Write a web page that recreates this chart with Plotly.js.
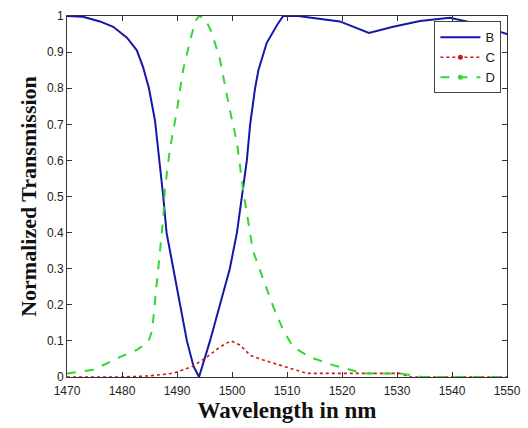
<!DOCTYPE html>
<html>
<head>
<meta charset="utf-8">
<script src="https://cdn.plot.ly/plotly-3.0.1.min.js"></script>
<style>html,body{margin:0;padding:0;background:#fff;}#chart{width:528px;height:428px;}</style>
</head>
<body>
<div id="chart"></div>
<script>
// Series B
var bX = [1470, 1472.9, 1476, 1478.4, 1480.9, 1482.7, 1483.8, 1484.9, 1486, 1486.7, 1487.5, 1488.1, 1489.3, 1490.5, 1491.8, 1493, 1494, 1496, 1497.8, 1499.6, 1500.9, 1501.8, 1502.7, 1503.3, 1504.2, 1504.8, 1506.3, 1508.2, 1509.3, 1512, 1514.8, 1519.6, 1524.9, 1529.3, 1534.2, 1539.6, 1542.7, 1546, 1550];
var bY = [1.0, 0.998, 0.985, 0.97, 0.94, 0.905, 0.86, 0.8, 0.71, 0.62, 0.5, 0.4, 0.3, 0.2, 0.1, 0.03, 0.0, 0.1, 0.2, 0.3, 0.4, 0.5, 0.6, 0.7, 0.8, 0.85, 0.925, 0.975, 1.0, 1.0, 0.995, 0.985, 0.953, 0.97, 0.986, 0.995, 0.985, 0.97, 0.95];
// Series C
var cX = [1470, 1480, 1484.8, 1489.3, 1492.9, 1495.4, 1497.8, 1499.8, 1501.5, 1503.3, 1505.7, 1510, 1513.6, 1518.4, 1530.5, 1532.4, 1540, 1550];
var cY = [0, 0, 0.003, 0.01, 0.03, 0.055, 0.083, 0.1, 0.088, 0.06, 0.047, 0.028, 0.01, 0.01, 0.01, 0, 0, 0];
// Series D
var dX = [1470, 1474.8, 1479.6, 1482.7, 1484.8, 1485.5, 1486, 1486.6, 1487.5, 1487.8, 1488.7, 1490, 1491.1, 1492.4, 1493.3, 1494, 1495.1, 1496.3, 1497.8, 1499.6, 1500.9, 1502, 1502.4, 1503.8, 1505.7, 1507.5, 1509.3, 1511.1, 1514.2, 1518.4, 1522.7, 1524.5, 1530.5, 1534.5, 1540, 1550];
var dY = [0.01, 0.02, 0.055, 0.075, 0.097, 0.13, 0.21, 0.305, 0.44, 0.52, 0.63, 0.74, 0.85, 0.933, 0.985, 1.0, 0.993, 0.955, 0.88, 0.74, 0.65, 0.52, 0.48, 0.35, 0.27, 0.195, 0.13, 0.083, 0.055, 0.033, 0.015, 0.01, 0.01, 0, 0, 0];

var xTicks = [1470, 1480, 1490, 1500, 1510, 1520, 1530, 1540, 1550];
var yTicks = [0, 0.1, 0.2, 0.3, 0.4, 0.5, 0.6, 0.7, 0.8, 0.9, 1];
var yTickText = ['0', '0.1', '0.2', '0.3', '0.4', '0.5', '0.6', '0.7', '0.8', '0.9', '1'];

var colB = '#1616a8', colC = '#cc1a1a', colD = '#33d633';

var traces = [
  {x: bX, y: bY, mode: 'lines', line: {color: colB, width: 2}, showlegend: false, hoverinfo: 'skip'},
  {x: cX, y: cY, mode: 'lines', line: {color: colC, width: 1.6, dash: 'dot'}, showlegend: false, hoverinfo: 'skip'},
  {x: dX, y: dY, mode: 'lines', line: {color: colD, width: 2, dash: 'dash'}, showlegend: false, hoverinfo: 'skip'},
  {x: [null], y: [null], name: 'B', mode: 'lines', line: {color: colB, width: 2}},
  {x: [null], y: [null], name: 'C', mode: 'lines+markers', line: {color: colC, width: 1.6, dash: 'dot'}, marker: {color: colC, size: 5}},
  {x: [null], y: [null], name: 'D', mode: 'lines+markers', line: {color: colD, width: 2, dash: 'dash'}, marker: {color: colD, size: 5}}
];

var tickFont = {family: 'Liberation Sans, Arial, sans-serif', size: 12, color: '#222'};
var layout = {
  width: 528, height: 428,
  margin: {l: 67, r: 21, t: 16, b: 51},
  paper_bgcolor: '#fff', plot_bgcolor: '#fff',
  showlegend: true,
  legend: {x: 0.835, y: 0.985, xanchor: 'left', yanchor: 'top', bgcolor: '#fff', bordercolor: '#444', borderwidth: 1,
           font: {family: 'Liberation Sans, Arial, sans-serif', size: 13, color: '#222'}, tracegroupgap: 0, itemwidth: 40},
  xaxis: {range: [1470, 1550], tickvals: xTicks, ticktext: xTicks.map(String), ticks: 'inside', ticklen: 5, tickcolor: '#333',
          showline: true, linecolor: '#333', linewidth: 1, mirror: 'ticks', showgrid: false, zeroline: false, tickfont: tickFont,
          ticklabelstandoff: 3,
          title: {text: '<b>Wavelength in nm</b>', font: {family: 'Liberation Serif, Times New Roman, serif', size: 23, color: '#111'}, standoff: 4}},
  yaxis: {range: [0, 1], tickvals: yTicks, ticktext: yTickText, ticks: 'inside', ticklen: 5, tickcolor: '#333',
          showline: true, linecolor: '#333', linewidth: 1, mirror: 'ticks', showgrid: false, zeroline: false, tickfont: tickFont,
          title: {text: '<b>Normalized Transmission</b>', font: {family: 'Liberation Serif, Times New Roman, serif', size: 22, color: '#111'}, standoff: 4}}
};

Plotly.newPlot('chart', traces, layout, {displayModeBar: false, staticPlot: true});
</script>
</body>
</html>
